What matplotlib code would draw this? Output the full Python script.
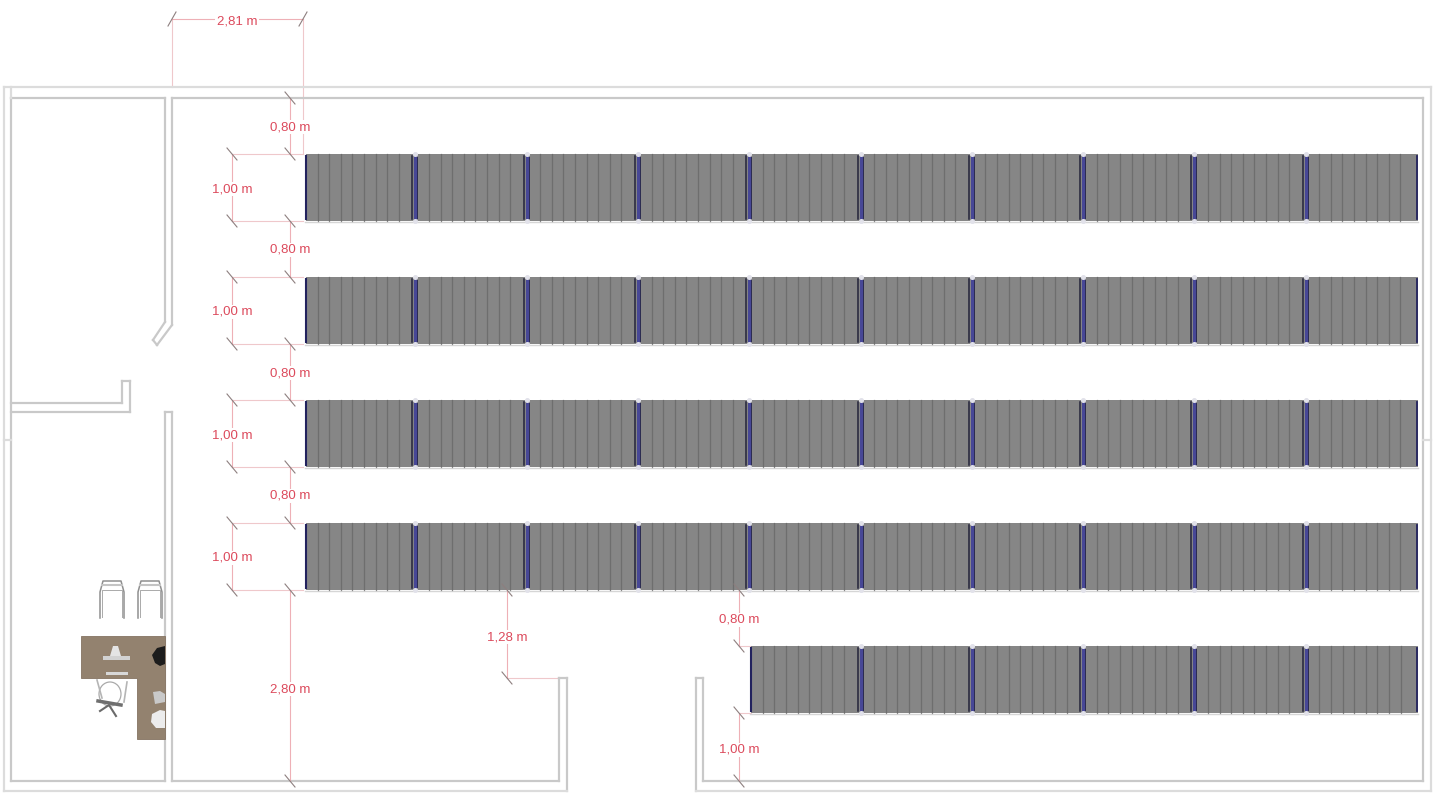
import matplotlib
matplotlib.use('Agg')
import matplotlib.pyplot as plt
from matplotlib.patches import Rectangle, Polygon, Ellipse

# floor plan, everything in pixels of the 1437x793 image
W, H = 1437, 793

row_tops = [154, 277, 400, 523, 646]
row_modules = [10, 10, 10, 10, 6]
row_height = 67
right_end = 1418
module_w = 111.3
n_slats = 8
slat_step = 11.6

# (x0, y0, x1, y1) wall lines
walls = [
    (11, 98, 165, 98), (172, 98, 1423, 98),
    (11, 98, 11, 781), (1423, 98, 1423, 781),
    (11, 781, 165, 781), (172, 781, 559, 781),
    (703, 781, 1423, 781),
    (165, 98, 165, 322), (172, 98, 172, 325),
    (165, 322, 153, 340), (172, 325, 157, 345), (153, 340, 157, 345),
    (165, 412, 165, 781), (172, 412, 172, 781), (165, 412, 172, 412),
    (11, 403, 122, 403), (11, 412, 130, 412), (122, 381, 122, 403),
    (130, 381, 130, 412), (122, 381, 130, 381),
    (559, 678, 559, 781), (567, 678, 567, 791), (559, 678, 567, 678),
    (703, 678, 703, 781), (696, 678, 696, 791), (696, 678, 703, 678),
]
# outer face of the walls, paler in the picture
outer_walls = [
    (4, 87, 1431, 87), (4, 87, 4, 791), (1431, 87, 1431, 791),
    (4, 791, 567, 791), (696, 791, 1431, 791),
    (11, 87, 11, 98), (4, 440, 11, 440), (1423, 440, 1431, 440),
]

# (x0, y0, x1, y1, label, label x, label y)
dims = [
    (172, 19, 303, 19, '2,81 m', 237, 22),
    (290, 98, 290, 154, '0,80 m', 290, 127),
    (290, 221, 290, 277, '0,80 m', 290, 250),
    (290, 344, 290, 400, '0,80 m', 290, 373),
    (290, 467, 290, 523, '0,80 m', 290, 496),
    (232, 154, 232, 221, '1,00 m', 232, 189),
    (232, 277, 232, 344, '1,00 m', 232, 312),
    (232, 400, 232, 467, '1,00 m', 232, 435),
    (232, 523, 232, 590, '1,00 m', 232, 558),
    (290, 590, 290, 781, '2,80 m', 290, 689),
    (507, 590, 507, 678, '1,28 m', 507, 637),
    (739, 590, 739, 646, '0,80 m', 739, 620),
    (739, 713, 739, 781, '1,00 m', 739, 750),
]
# thin witness lines
guides = [
    (172, 19, 172, 87), (303, 19, 303, 154),
    (232, 154, 303, 154), (232, 221, 303, 221), (232, 277, 303, 277),
    (232, 344, 303, 344), (232, 400, 303, 400), (232, 467, 303, 467),
    (232, 523, 303, 523), (232, 590, 303, 590),
    (507, 678, 559, 678), (739, 646, 751, 646), (739, 713, 751, 713),
]

red = '#dc4a5c'
tick_col = '#8d7f7f'
wall_col = '#c9c9c9'

fig = plt.figure(figsize=(W / 100, H / 100), dpi=100)
ax = fig.add_axes([0, 0, 1, 1])
ax.set_xlim(0, W)
ax.set_ylim(H, 0)
ax.axis('off')

for x0, y0, x1, y1 in walls:
    ax.plot([x0, x1], [y0, y1], color=wall_col, lw=1.6, solid_capstyle='projecting', zorder=2)
for x0, y0, x1, y1 in outer_walls:
    ax.plot([x0, x1], [y0, y1], color='#dcdcdc', lw=1.6, solid_capstyle='projecting', zorder=2)

# solar rows
for top, n in zip(row_tops, row_modules):
    bottom = top + row_height
    left_end = right_end - n * module_w
    ax.add_patch(Rectangle((left_end + 1, top), n * module_w - 1, row_height, fc='#868686', ec='none', zorder=3))
    ax.plot([left_end, right_end], [bottom + 1] * 2, color='#d6d6d6', lw=1, zorder=3)
    for m in range(n):
        x0 = left_end + m * module_w
        for s in range(1, n_slats + 1):
            xs = x0 + 1 + s * slat_step
            ax.plot([xs, xs], [top, bottom], color='#666666', lw=0.9, alpha=0.75, zorder=4)
        if m == 0:
            ax.plot([x0 + 1, x0 + 1], [top + 2, bottom - 2], color='#22225e', lw=1.5, zorder=5)
            continue
        # pair of clamps between two modules
        ax.plot([x0 - 4, x0 - 4], [top + 2, bottom - 2], color='#23233a', lw=1.1, zorder=5)
        ax.plot([x0 - 1, x0 - 1], [top + 1, bottom - 1], color='#474796', lw=2.2, zorder=5)
        ax.plot([x0 + 1, x0 + 1], [top + 3, bottom - 3], color='#2a2a50', lw=0.7, zorder=5)
        ax.plot([x0 - 1], [top], marker='o', ms=2.6, color='#e2e2ea', zorder=5)
        ax.plot([x0 - 1], [bottom], marker='o', ms=2.6, color='#e2e2ea', zorder=5)
    ax.plot([right_end - 1, right_end - 1], [top + 2, bottom - 2], color='#23235e', lw=1.3, zorder=5)

# dimension lines
for x0, y0, x1, y1 in guides:
    ax.plot([x0, x1], [y0, y1], color='#efc8cb', lw=0.8, zorder=1)
for x0, y0, x1, y1, label, lx, ly in dims:
    ax.plot([x0, x1], [y0, y1], color='#eeb0b6', lw=0.8, zorder=6)
    for tx, ty in ((x0, y0), (x1, y1)):
        if y0 == y1:
            ax.plot([tx - 4, tx + 4], [ty + 7, ty - 7], color=tick_col, lw=0.8, zorder=6)
        else:
            ax.plot([tx - 5, tx + 5], [ty - 6, ty + 6], color=tick_col, lw=0.8, zorder=6)
    ax.text(lx, ly, label, color=red, fontsize=9.5, family='Liberation Sans', ha='center', va='center',
            zorder=7, bbox=dict(fc='white', ec='none', pad=1.0))

# desk
ax.add_patch(Polygon([(81, 636), (165, 636), (165, 739), (137, 739), (137, 678), (81, 678)],
                     fc='#93826f', ec='#857362', lw=0.6, zorder=3))
ax.add_patch(Rectangle((103, 656), 27, 4, fc='#d2d2d2', ec='none', zorder=4))
ax.add_patch(Polygon([(110, 656), (113, 646), (118, 646), (121, 656)], fc='#e4e4e4', ec='none', zorder=4))
ax.add_patch(Rectangle((106, 672), 22, 3, fc='#d8d8d8', ec='none', zorder=4))
ax.add_patch(Polygon([(165, 646), (157, 648), (152, 655), (155, 663), (160, 666), (165, 664)],
                     fc='#1c1c1c', ec='none', zorder=4))
ax.add_patch(Polygon([(153, 692), (160, 691), (165, 694), (165, 702), (155, 704)], fc='#c9c9c9', ec='none', zorder=4))
ax.add_patch(Polygon([(152, 714), (160, 710), (165, 711), (165, 728), (156, 728), (151, 722)],
                     fc='#ececec', ec='none', zorder=4))

# visitor chairs
for cx in (112, 150):
    ax.plot([cx - 12, cx - 12, cx - 9, cx + 9, cx + 12, cx + 12],
            [618, 592, 581, 581, 592, 618], color='#8f8f8f', lw=1.1, zorder=3)
    ax.plot([cx - 10, cx - 10, cx + 10, cx + 10], [617, 590, 590, 617], color='#aaaaaa', lw=0.7, zorder=3)
    ax.plot([cx - 10, cx + 10], [585, 585], color='#c4c4c4', lw=1.5, zorder=3)

# office chair
ax.add_patch(Ellipse((110, 694), 22, 24, fc='white', ec='#aaaaaa', lw=0.9, zorder=2))
ax.plot([97, 102], [680, 698], color='#b5b5b5', lw=1.2, zorder=2)
ax.plot([127, 124], [682, 702], color='#b5b5b5', lw=1.2, zorder=2)
ax.plot([98, 121], [701, 705], color='#6f6f6f', lw=2.5, zorder=2)
ax.plot([100, 109, 116], [711, 705, 716], color='#6a6a6a', lw=1.5, zorder=2)

fig.savefig('out.png', dpi=100)
